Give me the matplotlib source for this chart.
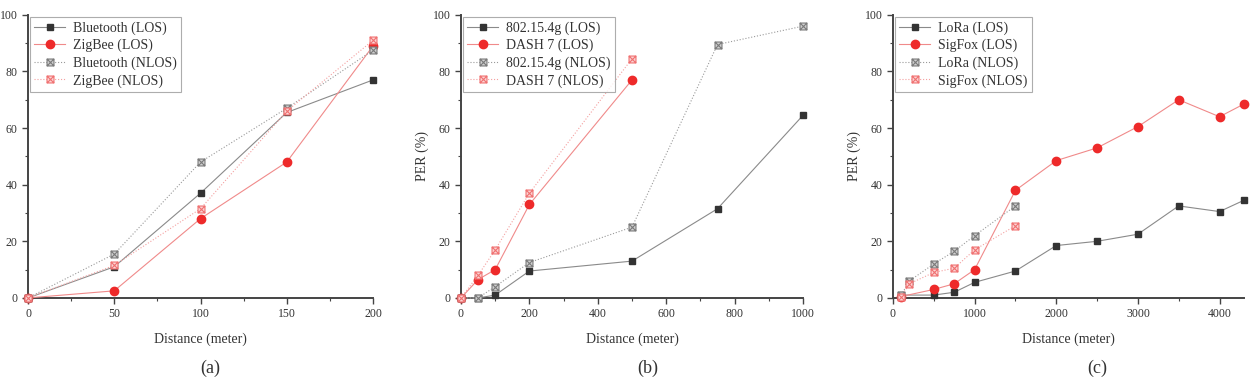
import numpy as np
import matplotlib as mpl
mpl.use('Agg')
import matplotlib.pyplot as plt
from matplotlib.path import Path
from matplotlib.ticker import MultipleLocator

plt.rcParams['font.family'] = ['Liberation Serif', 'DejaVu Serif']

#*******************************************************************************
# (a) short range
dist_a = [0, 50, 100, 150, 200]
bt_los = [0, 11, 37, 65.5, 77]
zb_los = [0, 2.5, 28, 48, 89]
bt_nlos = [0, 15.5, 48, 67, 87.5]
zb_nlos = [0, 11.5, 31.5, 66, 91]
labels_a = ['Bluetooth (LOS)', 'ZigBee (LOS)', 'Bluetooth (NLOS)', 'ZigBee (NLOS)']

# (b) medium range
dist_b = [0, 50, 100, 200, 500, 750, 1000]
g_los = [0, 0, 1, 9.5, 13, 31.5, 64.5]
g_nlos = [0, 0, 4, 12.5, 25, 89.5, 96]
dist_b_dash = [0, 50, 100, 200, 500]
dash_los = [0, 6.5, 10, 33, 77]
dash_nlos = [0, 8, 17, 37, 84.5]
labels_b = ['802.15.4g (LOS)', 'DASH 7 (LOS)', '802.15.4g (NLOS)', 'DASH 7 (NLOS)']

# (c) long range
dist_c_los = [100, 500, 750, 1000, 1500, 2000, 2500, 3000, 3500, 4000, 4300]
lora_los = [1, 1, 2, 5.5, 9.5, 18.5, 20, 22.5, 32.5, 30.5, 34.5]
sigfox_los = [0.5, 3, 5, 10, 38, 48.5, 53, 60.5, 70, 64, 68.5]
dist_c_nlos = [100, 200, 500, 750, 1000, 1500]
lora_nlos = [1, 6, 12, 16.5, 22, 32.5]
sigfox_nlos = [0.5, 5, 9, 10.5, 17, 25.5]
labels_c = ['LoRa (LOS)', 'SigFox (LOS)', 'LoRa (NLOS)', 'SigFox (NLOS)']

#*******************************************************************************
# square with a cross inside, for the NLOS series
xbox = Path([(-1, -1), (1, -1), (1, 1), (-1, 1), (-1, -1),
             (-1, -1), (1, 1), (-1, 1), (1, -1)],
            [Path.MOVETO, Path.LINETO, Path.LINETO, Path.LINETO, Path.CLOSEPOLY,
             Path.MOVETO, Path.LINETO, Path.MOVETO, Path.LINETO])

styles = [
    dict(color='#8a8a8a', ls='-', marker='s', ms=4.8, mfc='#333333', mec='#333333'),
    dict(color='#f08a8a', ls='-', marker='o', ms=6, mfc='#ee2a2a', mec='#ee2a2a'),
    dict(color='#9a9a9a', ls=':', marker=xbox, ms=5, mfc='#d0d0d0', mec='#7a7a7a', mew=0.8),
    dict(color='#f4a0a0', ls=':', marker=xbox, ms=5, mfc='#fbd4d4', mec='#f07070', mew=0.8),
]

def draw_panel(ax, series, labels, xmax, xmajor, ylabel=None):
    for (x, y), lab, st in zip(series, labels, styles):
        ax.plot(x, y, lw=0.8, label=lab, clip_on=False, zorder=3, **st)
    ax.set_xlim(0, xmax)
    ax.set_ylim(0, 100)
    ax.xaxis.set_major_locator(MultipleLocator(xmajor))
    ax.xaxis.set_minor_locator(MultipleLocator(xmajor / 2))
    ax.yaxis.set_major_locator(MultipleLocator(20))
    ax.yaxis.set_minor_locator(MultipleLocator(10))
    for s in ['top', 'right']:
        ax.spines[s].set_visible(False)
    for s in ['left', 'bottom']:
        ax.spines[s].set_linewidth(1.4)
        ax.spines[s].set_color('#444444')
    ax.tick_params(which='both', direction='out', colors='#444444', labelsize=8.5,
                   labelcolor='#333333')
    ax.tick_params(which='major', length=4, width=1)
    ax.tick_params(which='minor', length=2.5, width=0.8)
    ax.set_xlabel('Distance (meter)', fontsize=10, color='#333333', labelpad=9)
    if ylabel:
        ax.set_ylabel(ylabel, fontsize=10, color='#333333', labelpad=3)
    leg = ax.legend(loc='upper left', fontsize=10, frameon=True, fancybox=False,
                    borderaxespad=0.15, handlelength=2.2, handletextpad=0.6,
                    labelspacing=0.3, borderpad=0.3)
    leg.get_frame().set_edgecolor('#999999')
    leg.get_frame().set_linewidth(0.8)
    for t in leg.get_texts():
        t.set_color('#333333')

#*******************************************************************************
fig = plt.figure(figsize=(12.5, 3.8), dpi=100)
bottom, height = 0.216, 0.745
ax_a = fig.add_axes([0.0224, bottom, 0.276, height])
ax_b = fig.add_axes([0.3688, bottom, 0.2736, height])
ax_c = fig.add_axes([0.7144, bottom, 0.2808, height])

draw_panel(ax_a, [(dist_a, bt_los), (dist_a, zb_los), (dist_a, bt_nlos), (dist_a, zb_nlos)],
           labels_a, 200, 50)
draw_panel(ax_b, [(dist_b, g_los), (dist_b_dash, dash_los), (dist_b, g_nlos), (dist_b_dash, dash_nlos)],
           labels_b, 1000, 200, ylabel='PER (%)')
draw_panel(ax_c, [(dist_c_los, lora_los), (dist_c_los, sigfox_los),
                  (dist_c_nlos, lora_nlos), (dist_c_nlos, sigfox_nlos)],
           labels_c, 4300, 1000, ylabel='PER (%)')

for ax, tag, xc in [(ax_a, '(a)', 0.168), (ax_b, '(b)', 0.518), (ax_c, '(c)', 0.878)]:
    fig.text(xc, 0.03, tag, ha='center', va='center', fontsize=13, color='#333333')

fig.savefig('out.png', dpi=100)
